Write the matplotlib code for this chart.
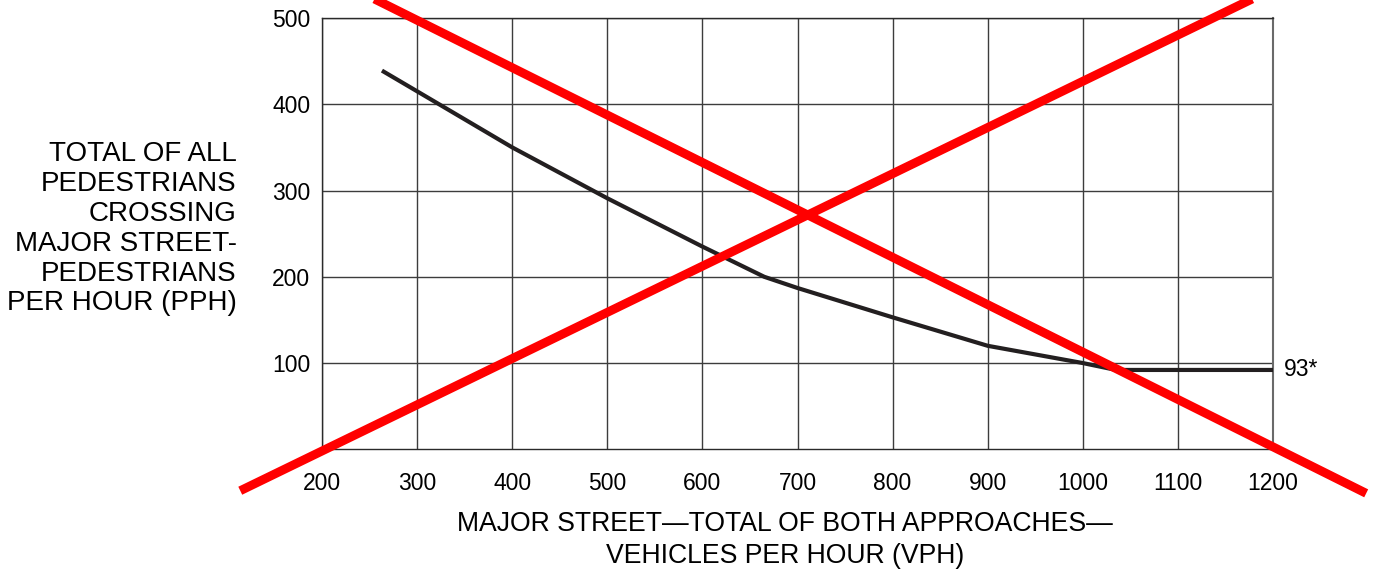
import matplotlib
matplotlib.use("Agg")
import matplotlib.pyplot as plt

# Data
curve_vph = [263, 300, 400, 500, 600, 665, 700, 800, 900, 1000, 1035, 1200]
curve_pph = [439, 415, 350, 291, 235, 200, 187, 153, 120, 100, 92, 92]
cross_a_vph = [186, 1298]   # descending red stroke
cross_a_pph = [560, -51]
cross_b_vph = [114, 1249]   # ascending red stroke
cross_b_pph = [-48, 560]
x_ticks = [200, 300, 400, 500, 600, 700, 800, 900, 1000, 1100, 1200]
y_ticks = [100, 200, 300, 400, 500]
end_label = "93*"
end_value = 93

plt.rcParams['font.family'] = ['Liberation Sans', 'DejaVu Sans']

fig = plt.figure(figsize=(13.78, 5.71), dpi=100)
ax = fig.add_axes([0.2337, 0.2131, 0.6901, 0.7554])
ax.set_xlim(200, 1200)
ax.set_ylim(0, 500)
ax.set_xticks(x_ticks)
ax.set_yticks(y_ticks)
ax.set_xticklabels([str(v) for v in x_ticks], fontsize=16.5)
ax.set_yticklabels([str(v) for v in y_ticks], fontsize=16.5)
ax.tick_params(axis='both', length=0)
ax.tick_params(axis='x', pad=16)
ax.tick_params(axis='y', pad=8.5)
ax.grid(True, color='#3c3c3c', linewidth=1.0)
ax.set_axisbelow(True)
for s in ['left', 'top', 'bottom']:
    ax.spines[s].set_color('#2a2a2a')
    ax.spines[s].set_linewidth(1.0)
ax.spines['right'].set_color('#6a6a6a')
ax.spines['right'].set_linewidth(1.5)

ax.plot(curve_vph, curve_pph, color='#231f20', linewidth=3.0, solid_capstyle='butt', zorder=3)
ax.annotate(end_label, xy=(1200, end_value), xytext=(8, 0), textcoords='offset points',
            fontsize=16.5, va='center', ha='left')

ax.plot(cross_a_vph, cross_a_pph, color='#ff0000', linewidth=6.4, clip_on=False,
        solid_capstyle='butt', zorder=4)
ax.plot(cross_b_vph, cross_b_pph, color='#ff0000', linewidth=6.4, clip_on=False,
        solid_capstyle='butt', zorder=4)

fig.text(0.1718, 0.599,
         "TOTAL OF ALL\nPEDESTRIANS\nCROSSING\nMAJOR STREET-\nPEDESTRIANS\nPER HOUR (PPH)",
         ha='right', va='center', multialignment='right', fontsize=20, linespacing=1.19)
fig.text(0.5697, 0.054,
         "MAJOR STREET\u2014TOTAL OF BOTH APPROACHES\u2014\nVEHICLES PER HOUR (VPH)",
         ha='center', va='center', multialignment='center', fontsize=19.2, linespacing=1.27)

fig.savefig("out.png", dpi=100)
